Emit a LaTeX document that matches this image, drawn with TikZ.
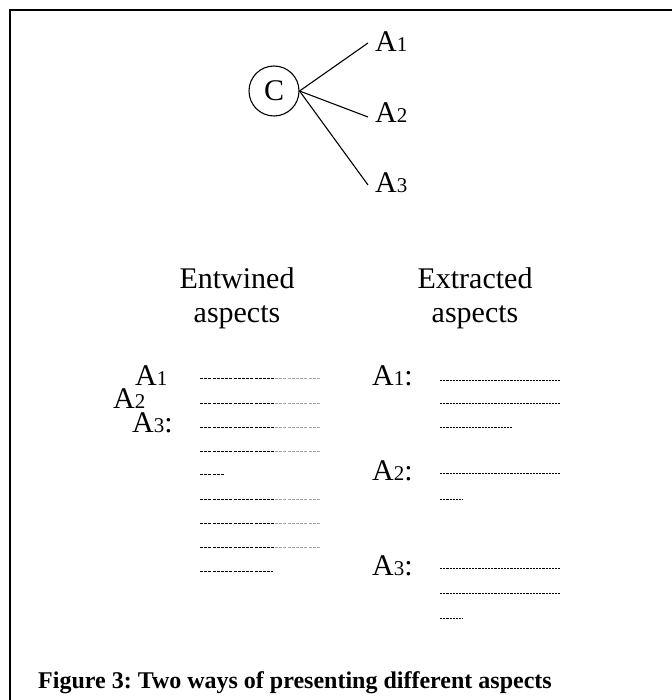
\documentclass[tikz,border=0pt]{standalone}
\usepackage{fontspec}
\setmainfont{Liberation Serif}
\newcommand\smalldig[1]{{\fontsize{21}{21}\selectfont #1}}
\begin{document}
\frenchspacing
\begin{tikzpicture}[x=1pt,y=-1pt,
  frame/.style={line width=2pt, line cap=rect},
  big/.style={font=\fontsize{30}{34}\selectfont, inner sep=0pt},
  lbl/.style={big, anchor=base west},
  cnode/.style={circle, draw, line width=1.1pt, minimum size=50pt, inner sep=0pt, font=\fontsize{30}{34}\selectfont},
  conn/.style={line width=1.1pt},
  darkdash/.style={line width=1pt, dash pattern=on 3pt off 1.2pt},
  lightdash/.style={line width=0.9pt, dash pattern=on 3pt off 1.2pt, black!35},
  finedash/.style={line width=0.7pt, dash pattern=on 2.2pt off 1pt},
  captext/.style={font=\fontsize{24}{28}\selectfont\bfseries, inner sep=0pt, anchor=base}]
\useasboundingbox (0,0) rectangle (671,700);
\draw[frame] (10,700) -- (10,10) -- (671,10);

% top tree
\node[cnode] (c) at (274,91) {C};
\coordinate (e1) at (368,43);
\coordinate (e2) at (368,117);
\coordinate (e3) at (368,185);
\draw[conn] (c.east) -- (e1);
\draw[conn] (c.east) -- (e2);
\draw[conn] (c.east) -- (e3);
\node[lbl] (t1) at (375,52) {A\smalldig{1}};
\node[lbl] (t2) at (375,123) {A\smalldig{2}};
\node[lbl] (t3) at (375,193) {A\smalldig{3}};

% headings
\node[big, align=center] (h1) at (237,298) {Entwined\\aspects};
\node[big, align=center] (h2) at (475,298) {Extracted\\aspects};

% left column
\node[lbl] (l1) at (135,385) {A\smalldig{1}};
\node[lbl] (l2) at (113,408) {A\smalldig{2}};
\node[lbl] (l3) at (132,432) {A\smalldig{3}:};
\foreach \yy in {378,403,427,451,499,523,547}{
  \draw[darkdash] (200,\yy) -- (275,\yy);
  \draw[lightdash] (275,\yy) -- (320,\yy);
}
\draw[darkdash] (200,474) -- (225,474);
\draw[darkdash] (200,571) -- (273,571);

% right column
\node[lbl] (r1) at (372,385) {A\smalldig{1}:};
\node[lbl] (r2) at (372,480) {A\smalldig{2}:};
\node[lbl] (r3) at (372,575) {A\smalldig{3}:};
\foreach \yy in {380,403,473,568,593}{
  \draw[finedash] (440,\yy) -- (560,\yy);
}
\draw[finedash] (440,427) -- (512,427);
\draw[finedash] (440,499) -- (463,499);
\draw[finedash] (440,618) -- (463,618);

% caption
\node[captext] (capt) at (295,688) {Figure 3: Two ways of presenting different aspects};
\end{tikzpicture}
\end{document}
